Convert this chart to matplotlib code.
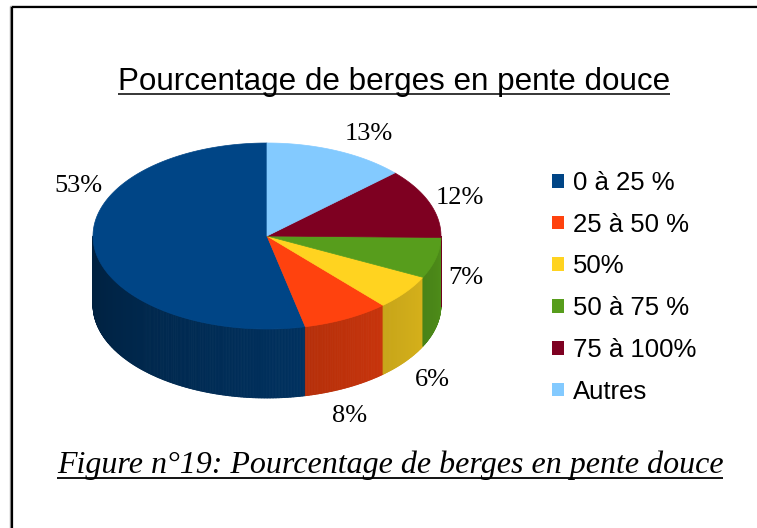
import numpy as np
import matplotlib
matplotlib.use("Agg")
import matplotlib.pyplot as plt
from matplotlib.patches import Polygon, Patch
from matplotlib.collections import PolyCollection
import matplotlib.colors as mcolors

#--------------------------------------------------------
# data

categories = ["0 à 25 %", "25 à 50 %", "50%", "50 à 75 %", "75 à 100%", "Autres"]
percentages = [53, 8, 6, 7, 12, 13]
sliceColors = ["#004586", "#ff420e", "#ffd320", "#579d1c", "#7e0021", "#83caff"]

chartTitle = "Pourcentage de berges en pente douce"
figureCaption = "Figure n°19: Pourcentage de berges en pente douce"

#--------------------------------------------------------
# layout (pixels, y downwards)

W, H = 757, 528
cx, cy = 267.0, 236.0      # centre of the top face
rx, ry = 174.0, 93.0       # radii of the top ellipse
depth = 69.0               # thickness of the cake
labelPositions = [(78, 186), (350, 416), (432, 380), (466, 278), (460, 198), (369, 134)]

#--------------------------------------------------------

def arc(t0, t1, dy=0.0):
    t = np.radians(np.linspace(t0, t1, max(2, int(abs(t1 - t0)) + 2)))
    return np.column_stack([cx + rx*np.cos(t), cy - ry*np.sin(t) + dy])

def shade(color, t):
    # darker on the left of the wall, lighter towards the right
    f = 0.46 + 0.44*(t - 180.0)/180.0
    r, g, b = mcolors.to_rgb(color)
    return (r*f, g*f, b*f)

def underline(ax, txt, y, lw):
    fig = ax.figure
    fig.canvas.draw()
    bb = txt.get_window_extent(fig.canvas.get_renderer())
    inv = ax.transData.inverted()
    x0 = inv.transform((bb.x0, bb.y0))[0]
    x1 = inv.transform((bb.x1, bb.y0))[0]
    ax.plot([x0, x1], [y, y], color="black", lw=lw, solid_capstyle="butt")

#--------------------------------------------------------

fig = plt.figure(figsize=(W/100, H/100), dpi=100)
ax = fig.add_axes([0, 0, 1, 1])
ax.set_xlim(0, W)
ax.set_ylim(H, 0)
ax.axis("off")

# frame of the figure box
ax.plot([10, W + 5], [6, 6], color="#999999", lw=1.0, solid_capstyle="butt")
ax.plot([10, 10], [6, H + 5], color="#999999", lw=1.0, solid_capstyle="butt")
ax.plot([11.5, W + 5], [7, 7], color="black", lw=1.6, solid_capstyle="butt")
ax.plot([11.5, 11.5], [7, H + 5], color="black", lw=1.6, solid_capstyle="butt")

# slice angles, counter clockwise from 12 o'clock
values = np.array(percentages, dtype=float)
spans = values/values.sum()*360.0
starts = 90.0 + np.concatenate([[0.0], np.cumsum(spans)[:-1]])

# side wall (only the front half is visible)
for color, t0, span in zip(sliceColors, starts, spans):
    a, b = max(t0, 180.0), min(t0 + span, 360.0)
    if b <= a:
        continue
    edges = np.linspace(a, b, max(2, int((b - a)/0.5) + 1))
    quads, cols = [], []
    for e0, e1 in zip(edges[:-1], edges[1:]):
        top = arc(e0, e1)[[0, -1]]
        quads.append([top[0], top[1], top[1] + [0, depth], top[0] + [0, depth]])
        cols.append(shade(color, 0.5*(e0 + e1)))
    ax.add_collection(PolyCollection(quads, facecolors=cols, edgecolors=cols, linewidths=0.6))

# top face
for color, t0, span in zip(sliceColors, starts, spans):
    pts = np.vstack([[cx, cy], arc(t0, t0 + span)])
    ax.add_patch(Polygon(pts, closed=True, facecolor=color, edgecolor=color, lw=0.5))

# value labels
for (x, y), v in zip(labelPositions, percentages):
    ax.text(x, y, "%i%%" % v, ha="center", va="center", fontsize=19,
            family="Liberation Serif", color="black")

# legend
handles = [Patch(facecolor=c, edgecolor="none") for c in sliceColors]
ax.legend(handles, categories, loc="upper left", bbox_to_anchor=(552, 171),
          bbox_transform=ax.transData, frameon=False, borderpad=0, borderaxespad=0,
          prop={"family": "Liberation Sans", "size": 18.5},
          handlelength=0.45, handleheight=0.45, handletextpad=0.35, labelspacing=0.69)

# title and caption, both underlined
t = ax.text(394, 90, chartTitle, ha="center", va="baseline", fontsize=22.6,
            family="Liberation Sans", color="black")
underline(ax, t, 94, 1.1)

c = ax.text(390, 473, figureCaption, ha="center", va="baseline", fontsize=23,
            family="Liberation Serif", style="italic", color="black")
underline(ax, c, 478, 1.3)

plt.savefig("out.png", dpi=100)
